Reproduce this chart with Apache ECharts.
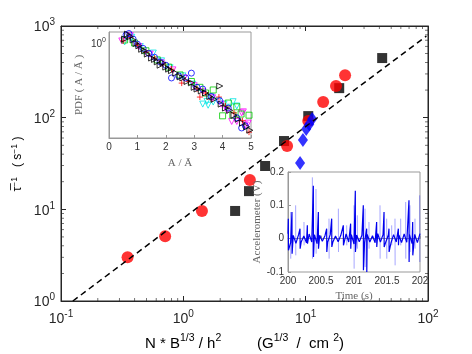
<!DOCTYPE html>
<html>
<head>
<meta charset="utf-8">
<script src="https://cdn.jsdelivr.net/npm/echarts@6/dist/echarts.min.js"></script>
<style>
  html, body { margin: 0; padding: 0; background: #fff; }
  #chart { width: 472px; height: 354px; }
</style>
</head>
<body>
<div id="chart"></div>
<script>
  // main panel: relaxation rate vs N*B^(1/3)/h^2
  const redX = [0.35, 0.71, 1.42, 3.5, 7.05, 10.5, 13.9, 17.7, 21.0]
  const redY = [3.0, 5.1, 9.6, 20.9, 49, 92, 148, 221, 291]
  const blackX = [2.65, 3.44, 4.66, 6.65, 10.5, 18.8, 42.2]
  const blackY = [9.6, 15.8, 29.7, 55.6, 104, 210, 447]
  const blueX = [9.0, 9.5, 10.1, 10.7, 11.3]
  const blueY = [32, 57, 75, 85, 97]
  const fitX = [0.125, 97]
  const fitY = [1, 776]
  // minor ticks of the log axes
  const minorX = [0.2, 0.3, 0.4, 0.5, 0.6, 0.7, 0.8, 0.9, 2, 3, 4, 5, 6, 7, 8, 9, 20, 30, 40, 50, 60, 70, 80, 90]
  const minorY = [2, 3, 4, 5, 6, 7, 8, 9, 20, 30, 40, 50, 60, 70, 80, 90, 200, 300, 400, 500, 600, 700, 800, 900]

  // PDF inset (A / Abar, PDF)
  const pdfBlack = [[0.55,1.2],[0.65,1.5],[0.75,1.35],[0.85,1.15],[0.95,0.98],[1.05,0.88],[1.15,0.75],[1.25,0.7],[1.35,0.6],[1.5,0.5],[1.6,0.47],[1.7,0.42],[1.8,0.36],[1.9,0.4],[2.0,0.33],[2.1,0.3],[2.2,0.28],[2.35,0.25],[2.5,0.21],[2.6,0.2],[2.75,0.17],[2.9,0.16],[3.0,0.13],[3.1,0.12],[3.25,0.11],[3.4,0.1],[3.55,0.085],[3.7,0.075],[3.9,0.138],[3.95,0.06],[4.1,0.05],[4.25,0.045],[4.4,0.036],[4.55,0.03],[4.7,0.025],[4.85,0.021],[4.96,0.018]]
  const pdfBlue = [[0.6,1.45],[0.7,1.55],[0.85,1.2],[1.0,0.95],[1.2,0.78],[1.4,0.62],[1.6,0.52],[1.8,0.42],[2.0,0.36],[2.2,0.2],[2.45,0.22],[2.7,0.2],[2.9,0.25],[3.1,0.13],[3.3,0.12],[3.6,0.085],[3.9,0.07],[4.2,0.05],[4.5,0.032],[4.67,0.02],[4.8,0.022]]
  const pdfRed = [[0.5,1.1],[0.75,1.3],[1.0,0.9],[1.3,0.65],[1.6,0.5],[1.9,0.38],[2.2,0.3],[2.56,0.158],[2.8,0.17],[3.1,0.12],[3.2,0.083],[3.4,0.1],[3.6,0.075],[3.87,0.083],[4.1,0.055],[4.4,0.04],[4.7,0.028],[4.93,0.0165]]
  const pdfGreen = [[0.55,1.15],[0.9,1.0],[1.3,0.7],[1.7,0.46],[2.1,0.33],[2.5,0.23],[2.9,0.17],[3.2,0.13],[3.4,0.1],[3.67,0.115],[4.0,0.035],[4.2,0.063],[4.36,0.036],[4.5,0.053],[4.65,0.038],[4.93,0.036]]
  const pdfCyan = [[0.55,1.05],[0.8,1.3],[1.1,0.85],[1.56,0.63],[1.85,0.44],[2.15,0.32],[2.6,0.22],[2.95,0.15],[3.3,0.06],[3.45,0.068],[3.49,0.057],[3.6,0.084],[3.67,0.066],[3.85,0.07],[4.05,0.06],[4.2,0.052],[4.37,0.067],[4.5,0.055]]
  const pdfMagenta = [[0.45,1.1],[0.75,1.4],[1.05,0.85],[1.45,0.6],[1.85,0.4],[2.25,0.29],[2.65,0.2],[3.0,0.14],[3.3,0.106],[3.65,0.08],[3.95,0.06],[4.15,0.045],[4.32,0.027],[4.5,0.027],[4.67,0.04],[4.73,0.042],[4.8,0.023],[4.9,0.025]]

  // accelerometer inset
  const spikeT = [200.005, 200.04, 200.06, 200.116, 200.182, 200.242, 200.293, 200.369, 200.384, 200.424, 200.46, 200.586, 200.621, 200.662, 200.763, 200.838, 200.889, 200.949, 201.0, 201.02, 201.05, 201.141, 201.167, 201.192, 201.227, 201.343, 201.394, 201.455, 201.495, 201.53, 201.571, 201.621, 201.672, 201.707, 201.783, 201.833, 201.848, 201.889, 201.924, 201.995]
  const spikeUp = [0.06, 0.08, 0.08, 0.1, 0.03, 0.05, 0.04, 0.184, 0.159, 0.149, 0.08, 0.03, 0.06, 0.06, 0.09, 0.04, 0.04, 0.045, 0.1, 0.144, 0.07, 0.1, 0.09, 0.03, 0.05, 0.05, 0.1, 0.08, 0.06, 0.03, 0.04, 0.06, 0.03, 0.06, 0.11, 0.115, 0.1, 0.05, 0.06, 0.13]
  const spikeDown = [-0.035, -0.06, -0.045, -0.05, -0.03, -0.02, -0.015, -0.06, -0.055, -0.045, -0.03, -0.04, -0.06, -0.025, -0.04, -0.02, -0.02, -0.03, -0.09, -0.04, -0.03, -0.095, -0.085, -0.1, -0.03, -0.025, -0.06, -0.025, -0.06, -0.04, -0.02, -0.08, -0.02, -0.02, -0.06, -0.07, -0.04, -0.05, -0.03, -0.07]
  const spikeLight = [0,1,0,1,0,1,0,1,0,1,0,0,1,0,1,0,1,0,1,0,1,0,1,0,1,0,1,0,1,0,1,1,0,1,1,0,1,0,1,1]
  const noiseStart = 200, noiseStep = 0.04
  const noiseV = [0.015,-0.012,0.01,-0.014,0.012,-0.01,0.008,-0.012,0.014,-0.01,0.012,-0.015,0.01,-0.008,0.009,-0.011,0.012,-0.01,0.008,-0.009,0.01,-0.012,0.014,-0.01,0.012,-0.016,0.011,-0.009,0.01,-0.012,0.013,-0.01,0.009,-0.012,0.015,-0.01,0.012,-0.011,0.01,-0.013,0.012,-0.01,0.011,-0.012,0.014,-0.011,0.012,-0.015,0.013,-0.012,0.015]

  const axisCol = '#262626'
  const sans = 'Liberation Sans'
  const serif = 'Liberation Serif'
  const supStyle = (size, sup, col, raise) => ({
    b: {fontSize: size, color: col, fontFamily: sans, verticalAlign: 'bottom'},
    s: {fontSize: sup, color: col, fontFamily: sans, verticalAlign: 'bottom', padding: [0, 0, raise, 0]}
  })
  const pow = supStyle(14, 10, axisCol, 7)
  const powLabel = v => '{b|10}{s|' + Math.round(Math.log10(v)) + '}'
  const zip = (xs, ys) => xs.map((x, i) => [x, ys[i]])

  // accelerometer traces
  let darkPts = noiseV.map((v, i) => [noiseStart + i * noiseStep, v])
  let lightPts = []
  spikeT.forEach((t, i) => {
    if (spikeLight[i]) {
      lightPts.push([t, spikeUp[i]], [t + 0.002, spikeDown[i]], [t + 0.003, '-'])
    } else {
      darkPts.push([t, spikeUp[i]], [t + 0.002, spikeDown[i]])
    }
  })
  darkPts.sort((a, b) => a[0] - b[0])

  const hollow = (name, data, symbol, color, rotate) => ({
    name, type: 'scatter', xAxisIndex: 2, yAxisIndex: 2, z: 6,
    symbol, symbolSize: 6, symbolRotate: rotate || 0,
    itemStyle: {color: 'transparent', borderColor: color, borderWidth: 1},
    data
  })
  const tickMarks = (data, size, offset) => ({
    type: 'scatter', xAxisIndex: 0, yAxisIndex: 0, silent: true, clip: false,
    symbol: 'rect', symbolSize: size, symbolOffset: offset,
    itemStyle: {color: axisCol}, data
  })

  const mainAxis = (type, extra) => Object.assign({
    type: 'log', gridIndex: 0, logBase: 10,
    axisLine: {lineStyle: {color: axisCol}},
    axisTick: {inside: true, length: 5, lineStyle: {color: axisCol}},
    splitLine: {show: false}
  }, extra)

  const chart = echarts.init(document.getElementById('chart'))
  chart.setOption({
    animation: false,
    backgroundColor: '#fff',
    grid: [
      {left: 61, top: 26, width: 367, height: 275, show: true, borderColor: axisCol, borderWidth: 1},
      {left: 109, top: 32, width: 142, height: 106, show: true, borderColor: '#999', borderWidth: 1, backgroundColor: '#fff', z: 3},
      {left: 288, top: 172, width: 132, height: 100, show: true, borderColor: '#999', borderWidth: 1, backgroundColor: '#fff', z: 3}
    ],
    xAxis: [
      mainAxis('x', {min: 0.1, max: 100, axisLabel: {margin: 8, formatter: powLabel, rich: pow}}),
      mainAxis('x', {position: 'top', min: 0.1, max: 100, axisLabel: {show: false}}),
      {type: 'value', gridIndex: 1, min: 0, max: 5, interval: 1, z: 4,
        axisLine: {lineStyle: {color: '#999'}},
        axisTick: {inside: true, length: 3, lineStyle: {color: '#999'}},
        splitLine: {show: false},
        axisLabel: {margin: 4, fontSize: 10, color: '#333', fontFamily: sans},
        name: 'A / Ā', nameLocation: 'middle', nameGap: 20,
        nameTextStyle: {fontSize: 11, color: '#666', fontFamily: serif}},
      {type: 'value', gridIndex: 2, min: 200, max: 202, interval: 0.5, z: 4,
        axisLine: {lineStyle: {color: '#999'}},
        axisTick: {inside: true, length: 3, lineStyle: {color: '#999'}},
        splitLine: {show: false},
        axisLabel: {margin: 4, fontSize: 10, color: '#333', fontFamily: sans},
        name: 'Time (s)', nameLocation: 'middle', nameGap: 19,
        nameTextStyle: {fontSize: 11, color: '#666', fontFamily: serif}}
    ],
    yAxis: [
      mainAxis('y', {min: 1, max: 1000, axisLabel: {margin: 6, formatter: powLabel, rich: pow}}),
      mainAxis('y', {position: 'right', min: 1, max: 1000, axisLabel: {show: false}}),
      {type: 'log', gridIndex: 1, min: 0.0126, max: 1.66, z: 4,
        axisLine: {lineStyle: {color: '#999'}},
        axisTick: {show: false},
        splitLine: {show: false},
        axisLabel: {margin: 3, showMinLabel: false, showMaxLabel: false,
          formatter: v => Math.abs(v - 1) < 1e-6 ? '{b|10}{s|0}' : '',
          rich: supStyle(10, 7, '#333', 5)},
        name: 'PDF ( A / Ā )', nameLocation: 'middle', nameGap: 24,
        nameTextStyle: {fontSize: 11, color: '#666', fontFamily: serif}},
      {type: 'value', gridIndex: 2, min: -0.1, max: 0.2, interval: 0.1, z: 4,
        axisLine: {lineStyle: {color: '#999'}},
        axisTick: {inside: true, length: 3, lineStyle: {color: '#999'}},
        splitLine: {show: false},
        axisLabel: {margin: 4, fontSize: 10, color: '#333', fontFamily: sans,
          formatter: v => String(Math.round(v * 10) / 10)},
        name: 'Accelerometer (V)', nameLocation: 'middle', nameGap: 25,
        nameTextStyle: {fontSize: 11, color: '#666', fontFamily: serif}}
    ],
    series: [
      tickMarks(minorX.map(v => [v, 1]), [0.8, 3], [0, -1.5]),
      tickMarks(minorX.map(v => [v, 1000]), [0.8, 3], [0, 1.5]),
      tickMarks(minorY.map(v => [0.1, v]), [3, 0.8], [1.5, 0]),
      tickMarks(minorY.map(v => [100, v]), [3, 0.8], [-1.5, 0]),
      {name: 'fit', type: 'line', xAxisIndex: 0, yAxisIndex: 0, showSymbol: false,
        lineStyle: {color: '#000', width: 1.5, type: [6, 4]}, data: zip(fitX, fitY)},
      {name: 'black', type: 'scatter', xAxisIndex: 0, yAxisIndex: 0, symbol: 'rect', symbolSize: 10,
        itemStyle: {color: '#000'}, data: zip(blackX, blackY)},
      {name: 'red', type: 'scatter', xAxisIndex: 0, yAxisIndex: 0, symbol: 'circle', symbolSize: 12,
        itemStyle: {color: '#ff0000'}, data: zip(redX, redY)},
      {name: 'blue', type: 'scatter', xAxisIndex: 0, yAxisIndex: 0, symbol: 'diamond', symbolSize: [10, 14],
        itemStyle: {color: '#0000ff'}, data: zip(blueX, blueY)},

      hollow('pdfCyan', pdfCyan, 'triangle', '#00e5e5', 180),
      hollow('pdfMagenta', pdfMagenta, 'triangle', '#ff00ff', 180),
      hollow('pdfGreen', pdfGreen, 'rect', '#00cc00'),
      hollow('pdfRed', pdfRed, 'path://M5,0V10M0,5H10', '#ff0000'),
      hollow('pdfBlue', pdfBlue, 'circle', '#0000ff'),
      hollow('pdfBlack', pdfBlack, 'triangle', '#000', -90),

      {name: 'accLight', type: 'line', xAxisIndex: 3, yAxisIndex: 3, z: 6, showSymbol: false,
        lineStyle: {color: '#0000ff', width: 1, opacity: 0.35}, data: lightPts},
      {name: 'accDark', type: 'line', xAxisIndex: 3, yAxisIndex: 3, z: 7, showSymbol: false,
        lineStyle: {color: '#0000ee', width: 1.2}, data: darkPts}
    ],
    graphic: [
      {type: 'text', x: 145, y: 342, z: 10,
        style: {text: '{b|N * B}{s|1/3}{b| / h}{s|2}', verticalAlign: 'middle', rich: supStyle(15, 10.5, axisCol, 7)}},
      {type: 'text', x: 257, y: 342, z: 10,
        style: {text: '{b|(G}{s|1/3}{b|  /  cm }{s|2}{b|)}', verticalAlign: 'middle', rich: supStyle(15, 10.5, axisCol, 7)}},
      {type: 'text', x: 17, y: 164, rotation: Math.PI / 2, z: 10,
        style: {text: '{b|τ\u0305}{s|−1}{b|   ( s}{s|−1}{b| )}', align: 'center', verticalAlign: 'middle',
          rich: supStyle(12, 8.5, '#444', 5)}}
    ]
  })
</script>
</body>
</html>
